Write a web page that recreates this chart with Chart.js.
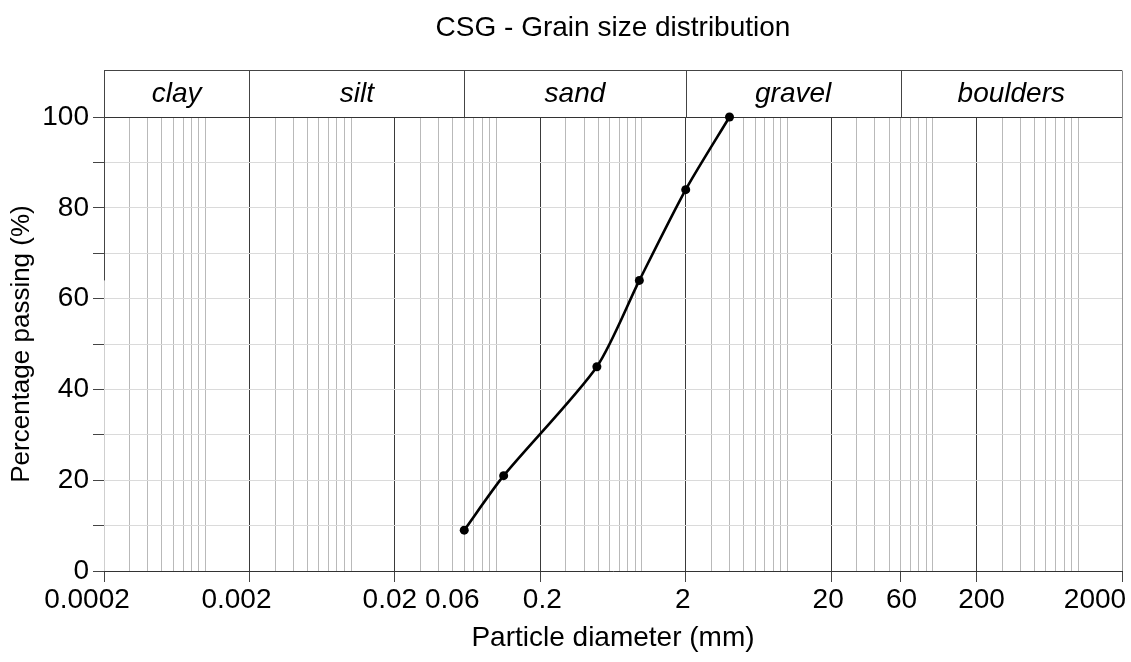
<!DOCTYPE html>
<html>
<head>
<meta charset="utf-8">
<script src="https://cdn.jsdelivr.net/npm/chart.js@4.4.1/dist/chart.umd.min.js"></script>
<style>
  html, body { margin: 0; padding: 0; background: #fff; }
  #wrap { width: 1131px; height: 662px; }
</style>
</head>
<body>
<div id="wrap"><canvas id="chart" width="1131" height="662"></canvas></div>
<script>
// --- data ---
const titleText = 'CSG - Grain size distribution';
const diameters = [0.06, 0.112, 0.49, 0.96, 2, 4];      // mm
const passing = [9, 21, 45, 64, 84, 100];                // %
const xTickLabels = [0.0002, 0.002, 0.02, 0.06, 0.2, 2, 20, 60, 200, 2000];
const xMajors = [0.0002, 0.002, 0.02, 0.2, 2, 20, 200, 2000];
const minorSteps = [3, 4, 5, 6, 7, 8, 9, 10];
const classNames = ['clay', 'silt', 'sand', 'gravel', 'boulders'];
const classBounds = [0.0002, 0.002, 0.06, 2, 60, 2000];

const FONT = "'Liberation Sans', Arial, sans-serif";

// grid values: majors + n*10^k minors
const xGrid = [];
xMajors.forEach(v => xGrid.push(v));
for (let k = -4; k <= 2; k++) {
    minorSteps.forEach(n => xGrid.push(n * Math.pow(10, k)));
}
xGrid.sort((a, b) => a - b);

const near = (a, b) => Math.abs(a - b) / b < 1e-6;
const isMajor = v => xMajors.some(m => near(v, m));
const isLabeled = v => xTickLabels.some(m => near(v, m));

const gradingPlugin = {
    id: 'grading',
    beforeDatasetsDraw(chart) {
        const { ctx, chartArea: a, scales: { x, y } } = chart;
        const top = 70.5;
        const yTop = Math.round(a.top) + 0.5;
        ctx.save();
        ctx.lineWidth = 1;

        // left edge (dark part)
        ctx.strokeStyle = '#444';
        ctx.beginPath();
        ctx.moveTo(Math.round(a.left) + 0.5, top);
        ctx.lineTo(Math.round(a.left) + 0.5, y.getPixelForValue(64));
        ctx.stroke();

        // header band: top line + class dividers
        ctx.beginPath();
        ctx.moveTo(a.left, top);
        ctx.lineTo(a.right, top);
        classBounds.slice(1, -1).forEach(b => {
            const px = Math.round(x.getPixelForValue(b)) + 0.5;
            ctx.moveTo(px, top);
            ctx.lineTo(px, yTop);
        });
        ctx.stroke();
        ctx.strokeStyle = '#888';
        ctx.beginPath();
        ctx.moveTo(Math.round(a.right) + 0.5, top);
        ctx.lineTo(Math.round(a.right) + 0.5, yTop);
        ctx.stroke();

        // class names
        ctx.fillStyle = '#000';
        ctx.font = 'italic 28px ' + FONT;
        ctx.textAlign = 'center';
        ctx.textBaseline = 'middle';
        classNames.forEach((name, i) => {
            const l = x.getPixelForValue(classBounds[i]);
            const r = x.getPixelForValue(classBounds[i + 1]);
            ctx.fillText(name, (l + r) / 2, (top + a.top) / 2);
        });

        // chart title
        ctx.font = '28px ' + FONT;
        ctx.textBaseline = 'alphabetic';
        ctx.fillText(titleText, (a.left + a.right) / 2, 36);

        // x tick labels (hand nudged like the original)
        const nudge = [-17, -13, -5, -12, 2, -3, -3, 1, 5, -27];
        xTickLabels.forEach((v, i) => {
            ctx.fillText(String(v), x.getPixelForValue(v) + nudge[i], 608);
        });
        ctx.restore();
    }
};

new Chart(document.getElementById('chart'), {
    type: 'line',
    data: {
        datasets: [{
            data: diameters.map((d, i) => ({ x: d, y: passing[i] })),
            borderColor: '#000',
            backgroundColor: '#000',
            borderWidth: 2.6,
            pointRadius: 4.5,
            pointBackgroundColor: '#000',
            pointBorderWidth: 0,
            tension: 0.25,
            clip: false
        }]
    },
    options: {
        responsive: false,
        animation: false,
        layout: { padding: { top: 117, right: 9, left: 0, bottom: 0 } },
        plugins: {
            legend: { display: false },
            title: { display: false },
            tooltip: { enabled: false }
        },
        scales: {
            x: {
                type: 'logarithmic',
                min: 0.0002,
                max: 2000,
                afterBuildTicks: scale => {
                    scale.ticks = xGrid.map(v => ({ value: v }));
                },
                afterFit: scale => { scale.height = 91; },
                ticks: { display: false },
                grid: {
                    color: c => {
                        const v = c.tick.value;
                        if (near(v, 0.0002)) return '#cfcfcf';
                        if (near(v, 2000)) return '#999';
                        return isMajor(v) ? '#3a3a3a' : '#b9b9b9';
                    },
                    tickColor: c => {
                        const v = c.tick.value;
                        return isLabeled(v) && !near(v, 0.06) ? '#444' : 'rgba(0,0,0,0)';
                    },
                    tickLength: 11
                },
                border: { display: true, color: '#333' },
                title: {
                    display: true,
                    text: 'Particle diameter (mm)',
                    color: '#000',
                    font: { family: FONT, size: 28 },
                    padding: { top: 4, bottom: 7 }
                }
            },
            y: {
                min: 0,
                max: 100,
                afterFit: scale => { scale.width = 104; },
                ticks: {
                    stepSize: 10,
                    color: '#000',
                    padding: 4,
                    font: { family: FONT, size: 28 },
                    callback: v => (v % 20 === 0 ? v : '')
                },
                grid: {
                    color: c => (c.tick.value === 100 ? '#333' : '#dadada'),
                    tickColor: '#444',
                    tickLength: 11
                },
                border: { display: false },
                title: {
                    display: true,
                    text: 'Percentage passing (%)',
                    color: '#000',
                    font: { family: FONT, size: 26 },
                    padding: { top: 6, bottom: 4 }
                }
            }
        }
    },
    plugins: [gradingPlugin]
});
</script>
</body>
</html>
